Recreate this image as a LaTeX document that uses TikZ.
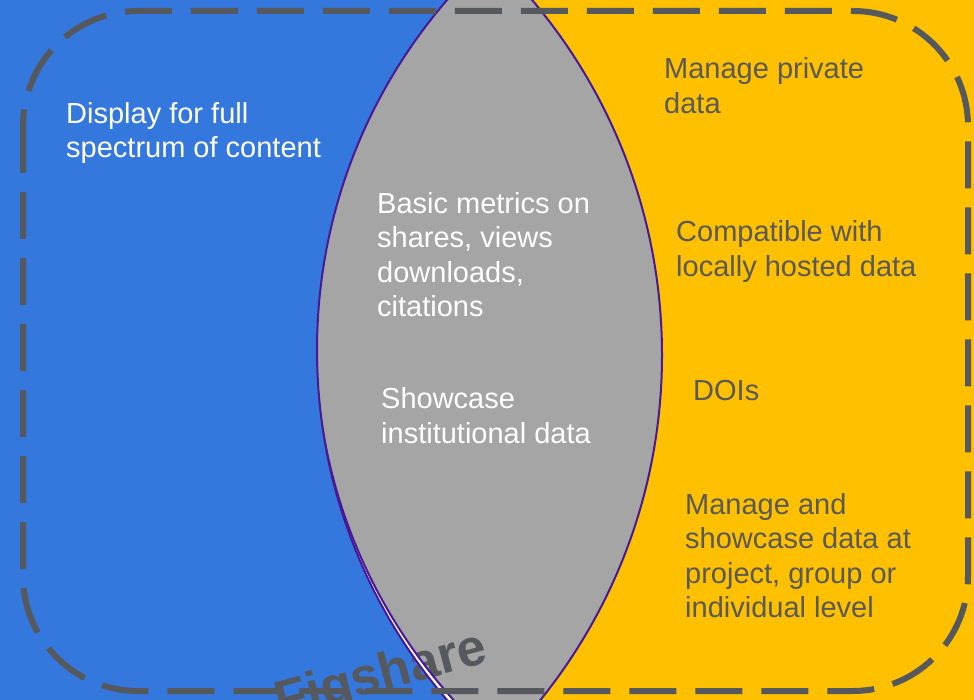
\documentclass[tikz,border=0pt]{standalone}
\usepackage{fontspec}
\setmainfont{Liberation Sans}

\definecolor{venblue}{RGB}{52,120,221}
\definecolor{venyellow}{RGB}{255,192,0}
\definecolor{vengray}{RGB}{165,165,165}
\definecolor{venpurple}{RGB}{72,25,150}
\definecolor{vendark}{RGB}{85,88,92}
\definecolor{ventext}{RGB}{89,89,89}

\tikzset{
    lbl/.style={anchor=base west, inner sep=0pt, align=left,
        font=\fontsize{29}{34.5}\selectfont},
    lensline/.style={draw=venpurple, line width=2pt},
    frameline/.style={draw=vendark, line width=6pt, dash pattern=on 47pt off 19pt,
        rounded corners=115pt}
}

\begin{document}
\begin{tikzpicture}[x=1pt,y=-1pt]
        \useasboundingbox (0,0) rectangle (974,700);
        \clip (0,0) rectangle (974,700);

        % the two sets and their overlap
        \fill[venyellow] (0,0) rectangle (974,700);
        \fill[venblue] (112,355) circle[radius=550pt];
        \begin{scope}
            \clip (853,350) circle[radius=536pt];
            \fill[vengray] (112,355) circle[radius=550pt];
        \end{scope}

        \node[font=\fontsize{52}{60}\selectfont\bfseries, text=vendark, inner sep=0pt,
            anchor=base east, rotate=15] (figshare) at (490,662) {Figshare};

        \begin{scope}
            \clip (853,350) circle[radius=536pt];
            \clip (112,355) circle[radius=550pt];
            \fill[white, even odd rule] (0,0) rectangle (974,700)
                (851.4,340.8) circle[radius=536pt];
            \draw[lensline] (851.4,340.8) circle[radius=536pt];
        \end{scope}
        \begin{scope}
            \clip (853,350) circle[radius=536pt];
            \draw[lensline] (112,355) circle[radius=550pt];
        \end{scope}
        \begin{scope}
            \clip (112,355) circle[radius=550pt];
            \draw[lensline] (853,350) circle[radius=536pt];
        \end{scope}

        % labels (anchored at the baseline of their last line)
        \node[lbl, text=white] (display) at (66,158) {Display for full\\spectrum of content};
        \node[lbl, text=white] (metrics) at (377,316.8) {Basic metrics on\\shares, views\\downloads,\\citations};
        \node[lbl, text=white] (showcase) at (381,443) {Showcase\\institutional data};
        \node[lbl, text=ventext] (privdata) at (664,113.5) {Manage private\\data};
        \node[lbl, text=ventext] (compat) at (676,276.5) {Compatible with\\locally hosted data};
        \node[lbl, text=ventext] (dois) at (693,400.7) {DOIs};
        \node[lbl, text=ventext] (project) at (685,617.5) {Manage and\\showcase data at\\project, group or\\individual level};

        \draw[frameline] (23,11) rectangle (968,691);
\end{tikzpicture}
\end{document}
